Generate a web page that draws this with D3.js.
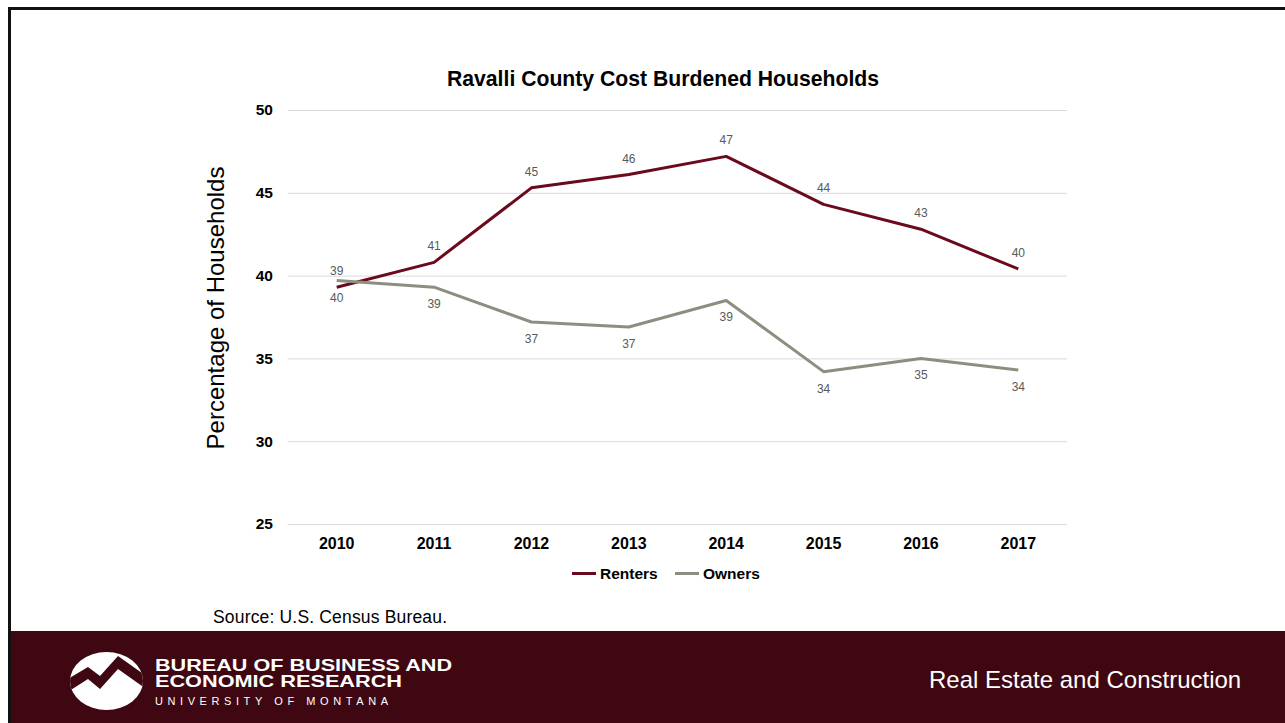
<!DOCTYPE html>
<html>
<head>
<meta charset="utf-8">
<script src="https://cdn.jsdelivr.net/npm/d3@7"></script>
<style>
  html, body { margin: 0; padding: 0; background: #ffffff; }
  svg { display: block; }
</style>
</head>
<body>
<svg id="chart" width="1285" height="723"></svg>
<script>
// Cost-burdened households in Ravalli County, percent
const years = ["2010", "2011", "2012", "2013", "2014", "2015", "2016", "2017"];
const renters = [39.3, 40.8, 45.3, 46.1, 47.2, 44.3, 42.8, 40.4];
const owners = [39.7, 39.3, 37.2, 36.9, 38.5, 34.2, 35.0, 34.3];
const yTicks = [25, 30, 35, 40, 45, 50];

const seriesList = [
  { name: "Renters", values: renters, color: "#6a0a1c", labelPos: "above" },
  { name: "Owners", values: owners, color: "#8c8f80", labelPos: "below" }
];

const W = 1285, H = 723;
const maroon = "#3e0712";
const svg = d3.select("#chart");

// slide frame
svg.append("rect").attr("x", 0).attr("y", 0).attr("width", W).attr("height", H).attr("fill", "#fff");
svg.append("line").attr("x1", 9).attr("x2", W).attr("y1", 8.5).attr("y2", 8.5)
  .attr("stroke", "#111").attr("stroke-width", 3);
svg.append("line").attr("x1", 9.5).attr("x2", 9.5).attr("y1", 7).attr("y2", H)
  .attr("stroke", "#111").attr("stroke-width", 3);

// chart area
const plot = { left: 288, right: 1067, top: 110, bottom: 524 };
const x = d3.scaleBand().domain(years).range([plot.left, plot.right]);
const y = d3.scaleLinear().domain([25, 50]).range([plot.bottom, plot.top]);
const cx = d => x(d) + x.bandwidth() / 2;

const font = "'Liberation Sans', Arial, Helvetica, sans-serif";

// gridlines and y tick labels
const yAxis = d3.axisLeft(y).tickValues(yTicks).tickSize(-(plot.right - plot.left)).tickPadding(15);
const gy = svg.append("g").attr("transform", `translate(${plot.left},0)`).call(yAxis);
gy.select(".domain").remove();
gy.selectAll(".tick line").attr("stroke", "#d9d9d9").attr("stroke-width", 1);
gy.selectAll(".tick text").attr("font-family", font).attr("font-size", 15.5)
  .attr("font-weight", "bold").attr("fill", "#000");

// year labels
const xAxis = d3.axisBottom(x).tickSize(0).tickPadding(14);
const gx = svg.append("g").attr("transform", `translate(0,${plot.bottom})`).call(xAxis);
gx.select(".domain").remove();
gx.selectAll(".tick text").attr("font-family", font).attr("font-size", 16)
  .attr("font-weight", "bold").attr("fill", "#000");

// title
svg.append("text").attr("x", 663).attr("y", 86).attr("text-anchor", "middle")
  .attr("font-family", font).attr("font-size", 21.2).attr("font-weight", "bold")
  .attr("fill", "#000").text("Ravalli County Cost Burdened Households");

// y axis title
svg.append("text").attr("transform", "translate(224,308) rotate(-90)")
  .attr("text-anchor", "middle").attr("font-family", font).attr("font-size", 24)
  .attr("fill", "#000").text("Percentage of Households");

// lines
const line = d3.line().x((d, i) => cx(years[i])).y(d => y(d));
seriesList.forEach(s => {
  svg.append("path").datum(s.values).attr("d", line).attr("fill", "none")
    .attr("stroke", s.color).attr("stroke-width", 3).attr("stroke-linejoin", "round");
});

// value labels
seriesList.forEach(s => {
  svg.append("g").selectAll("text").data(s.values).join("text")
    .attr("x", (d, i) => cx(years[i]))
    .attr("y", d => s.labelPos === "above" ? y(d) - 12 : y(d) + 21)
    .attr("text-anchor", "middle").attr("font-family", font).attr("font-size", 12)
    .attr("fill", "#595959").text(d => Math.round(d));
});

// legend
const legend = svg.append("g");
const legendItems = [{ s: seriesList[0], x: 572 }, { s: seriesList[1], x: 675 }];
legendItems.forEach(it => {
  legend.append("line").attr("x1", it.x).attr("x2", it.x + 24).attr("y1", 573.5).attr("y2", 573.5)
    .attr("stroke", it.s.color).attr("stroke-width", 3);
  legend.append("text").attr("x", it.x + 28).attr("y", 579).attr("font-family", font)
    .attr("font-size", 15.5).attr("font-weight", "bold").attr("fill", "#000").text(it.s.name);
});

// source note
svg.append("text").attr("x", 213).attr("y", 623).attr("font-family", font)
  .attr("font-size", 17.5).attr("fill", "#000")
  .attr("textLength", 234).attr("lengthAdjust", "spacing").text("Source: U.S. Census Bureau.");

// footer band
svg.append("rect").attr("x", 11).attr("y", 631).attr("width", W - 11).attr("height", H - 631)
  .attr("fill", maroon);

// logo: white oval with a mountain ridge
svg.append("clipPath").attr("id", "oval")
  .append("ellipse").attr("cx", 106.5).attr("cy", 681).attr("rx", 36.5).attr("ry", 29);
svg.append("ellipse").attr("cx", 106.5).attr("cy", 681).attr("rx", 36.5).attr("ry", 29).attr("fill", "#fff");
svg.append("polygon")
  .attr("points", "66,680 88,667 100,676 118,656 146,676 146,689 118,669 100,689 88,679 66,693")
  .attr("fill", maroon).attr("clip-path", "url(#oval)");

svg.append("text").attr("x", 155).attr("y", 671).attr("font-family", font)
  .attr("font-size", 16.5).attr("font-weight", "bold").attr("fill", "#fff")
  .attr("textLength", 297).attr("lengthAdjust", "spacingAndGlyphs").text("BUREAU OF BUSINESS AND");
svg.append("text").attr("x", 155).attr("y", 687).attr("font-family", font)
  .attr("font-size", 16.5).attr("font-weight", "bold").attr("fill", "#fff")
  .attr("textLength", 247).attr("lengthAdjust", "spacingAndGlyphs").text("ECONOMIC RESEARCH");
svg.append("text").attr("x", 155).attr("y", 705).attr("font-family", font)
  .attr("font-size", 11).attr("fill", "#fff")
  .attr("textLength", 233).attr("lengthAdjust", "spacing").text("UNIVERSITY OF MONTANA");

svg.append("text").attr("x", 929).attr("y", 688).attr("font-family", font)
  .attr("font-size", 24).attr("fill", "#fff").text("Real Estate and Construction");
</script>
</body>
</html>
